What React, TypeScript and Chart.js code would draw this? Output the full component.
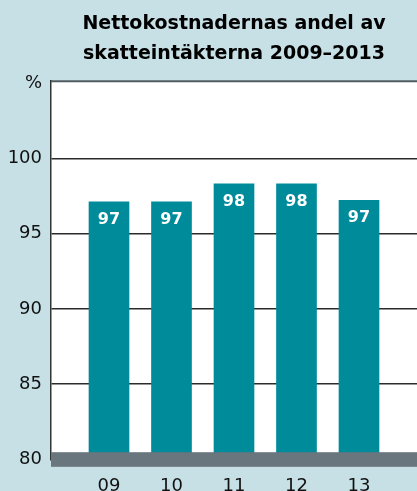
import React, { useEffect, useRef } from "react";
import { Chart, registerables } from "chart.js";

Chart.register(...registerables);

const titleLines = ["Nettokostnadernas andel av", "skatteintäkterna 2009–2013"];
const categories = ["09", "10", "11", "12", "13"];
const shareValues = [97.1, 97.1, 98.3, 98.3, 97.2];
const valueLabels = ["97", "97", "98", "98", "97"];
const yTickValues = [80, 85, 90, 95, 100, 105];
const unitLabel = "%";

const BG = "#c6e0e6";
const BAR = "#008b9b";
const BAND = "#69767d";
const GRID = "#2b2b2b";
const FRAME = "#4f5a60";

export default function App() {
  const ref = useRef<HTMLCanvasElement | null>(null);

  useEffect(() => {
    document.body.style.margin = "0";
    const canvas = ref.current;
    if (!canvas) return;

    const plotBg = {
      id: "plotBg",
      beforeDraw(chart: any) {
        const { ctx, chartArea } = chart;
        ctx.save();
        ctx.fillStyle = "#ffffff";
        ctx.fillRect(chartArea.left, chartArea.top, chartArea.right - chartArea.left, chartArea.bottom - chartArea.top);
        ctx.restore();
      },
    };

    const overlay = {
      id: "overlay",
      afterDatasetsDraw(chart: any) {
        const { ctx, chartArea, scales } = chart;
        const y = scales.y;
        ctx.save();
        const y80 = y.getPixelForValue(80);
        ctx.fillStyle = BAND;
        ctx.fillRect(chartArea.left, y80 - 7.3, chartArea.right - chartArea.left, 14.6);
        ctx.strokeStyle = FRAME;
        ctx.lineWidth = 2;
        ctx.beginPath();
        ctx.moveTo(chartArea.left, chartArea.top + 0.5);
        ctx.lineTo(chartArea.right, chartArea.top + 0.5);
        ctx.stroke();
        const meta = chart.getDatasetMeta(0);
        ctx.fillStyle = "#ffffff";
        ctx.font = "bold 16px 'DejaVu Sans'";
        ctx.textAlign = "center";
        ctx.textBaseline = "middle";
        meta.data.forEach((bar: any, i: number) => {
          ctx.fillText(valueLabels[i], bar.x, bar.y + 17.5);
        });
        ctx.restore();
      },
    };

    const chart = new Chart(canvas, {
      type: "bar",
      data: {
        datasets: [
          {
            data: shareValues.map((v, i) => ({ x: i, y: v })),
            backgroundColor: BAR,
            barThickness: 40,
            borderWidth: 0,
          },
        ],
      },
      options: {
        animation: false,
        responsive: false,
        devicePixelRatio: 1,
        layout: { padding: 0 },
        plugins: {
          legend: { display: false },
          tooltip: { enabled: false },
          title: {
            display: true,
            text: titleLines,
            fullSize: false,
            color: "#000000",
            font: { family: "'DejaVu Sans'", size: 19, weight: "bold", lineHeight: "30px" },
            padding: { top: 9, bottom: 11.7 },
          },
        },
        scales: {
          x: {
            type: "linear",
            offset: false,
            min: -0.928,
            max: 4.928,
            afterBuildTicks: (scale: any) => {
              scale.ticks = categories.map((_, i) => ({ value: i }));
            },
            afterFit: (scale: any) => {
              scale.height = 31.5;
            },
            grid: { display: false, offset: false },
            border: { display: false },
            ticks: {
              autoSkip: false,
              maxRotation: 0,
              padding: 8,
              color: "#111111",
              font: { family: "'DejaVu Sans'", size: 18 },
              callback: (v: any) => categories[Number(v)] ?? "",
            },
          },
          y: {
            type: "linear",
            min: 80,
            max: 105.15,
            afterBuildTicks: (scale: any) => {
              scale.ticks = yTickValues.map((v) => ({ value: v }));
            },
            afterFit: (scale: any) => {
              scale.width = 51;
            },
            grid: {
              drawTicks: false,
              lineWidth: 1.5,
              color: (ctx: any) => {
                const v = ctx.tick && ctx.tick.value;
                return v === 80 || v === 105 ? "rgba(0,0,0,0)" : GRID;
              },
            },
            border: { display: true, color: "#333333", width: 1.5 },
            ticks: {
              padding: 9,
              color: "#111111",
              font: { family: "'DejaVu Sans'", size: 18 },
              callback: (v: any) => (Number(v) === 105 ? unitLabel : String(v)),
            },
          },
        },
      },
      plugins: [plotBg, overlay],
    } as any);

    return () => chart.destroy();
  }, []);

  return (
    <div style={{ width: 417, height: 491, background: BG, overflow: "hidden" }}>
      <canvas ref={ref} width={417} height={491} style={{ display: "block" }} />
    </div>
  );
}
